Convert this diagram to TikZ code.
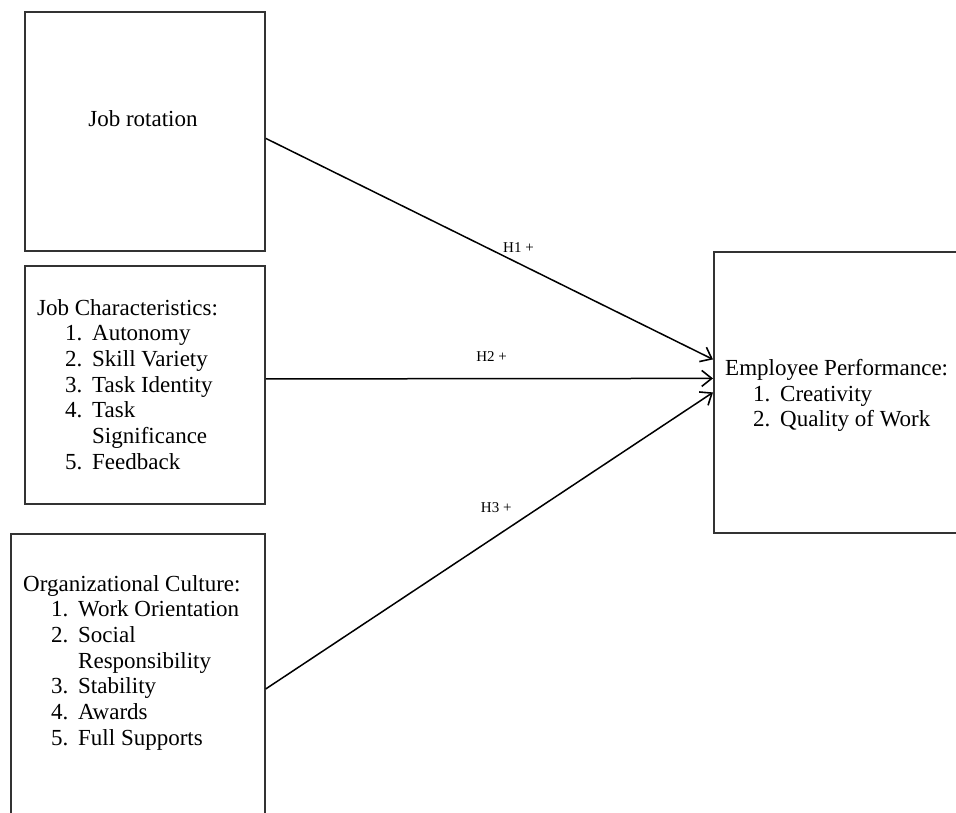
\documentclass[tikz,border=0pt]{standalone}
\usepackage{fontspec}
\setmainfont{Liberation Serif}
\usepackage{tikz}
\usetikzlibrary{arrows.meta, positioning}

\newcommand{\numitem}[2]{\hspace*{28pt}\makebox[27pt][l]{#1}#2}

\begin{document}
\begin{tikzpicture}[
    x=1pt, y=1pt,
    box/.style={rectangle, draw=black!80, line width=1.8pt, anchor=north west, inner sep=0pt},
    txt/.style={anchor=north west, align=left, inner sep=0pt, font=\fontsize{23pt}{25.7pt}\selectfont},
    lbl/.style={font=\fontsize{15pt}{17pt}\selectfont},
    arrow/.style={line width=1.5pt, -{Straight Barb[length=10pt, width=16pt, line width=1.6pt]}}
  ]
    \clip (0,0) rectangle (956,-812);

    % Nodes
    \node (jobrot) [box, minimum width=240pt, minimum height=239pt] at (24,-11) {};
    \node (jobrottext) [txt, anchor=center] at (143,-119) {Job rotation};

    \node (jobchar) [box, minimum width=240pt, minimum height=238pt] at (24,-265) {};
    \node (jobchartext) [txt] at (37,-299) {Job Characteristics:\\
      \numitem{1.}{Autonomy}\\
      \numitem{2.}{Skill Variety}\\
      \numitem{3.}{Task Identity}\\
      \numitem{4.}{Task}\\
      \hspace*{55pt}Significance\\
      \numitem{5.}{Feedback}};

    \node (orgcult) [box, minimum width=254pt, minimum height=310pt] at (10,-533) {};
    \node (orgculttext) [txt] at (23,-575) {Organizational Culture:\\
      \numitem{1.}{Work Orientation}\\
      \numitem{2.}{Social}\\
      \hspace*{55pt}Responsibility\\
      \numitem{3.}{Stability}\\
      \numitem{4.}{Awards}\\
      \numitem{5.}{Full Supports}};

    \node (perf) [box, minimum width=262pt, minimum height=281pt] at (713,-251) {};
    \node (perftext) [txt] at (725,-359) {Employee Performance:\\
      \numitem{1.}{Creativity}\\
      \numitem{2.}{Quality of Work}};

    % Connections
    \draw [arrow] ([yshift=-7pt]jobrot.east) -- node[lbl, pos=0.565, above=7pt] {H1 +} ([yshift=33pt]perf.west);
    \draw [arrow] ([yshift=6pt]jobchar.east) -- node[lbl, pos=0.505, above=13pt] {H2 +} ([yshift=14pt]perf.west);
    \draw [arrow] (orgcult.east) -- node[lbl, pos=0.61, left=23pt] {H3 +} (perf.west);

  \end{tikzpicture}
\end{document}
